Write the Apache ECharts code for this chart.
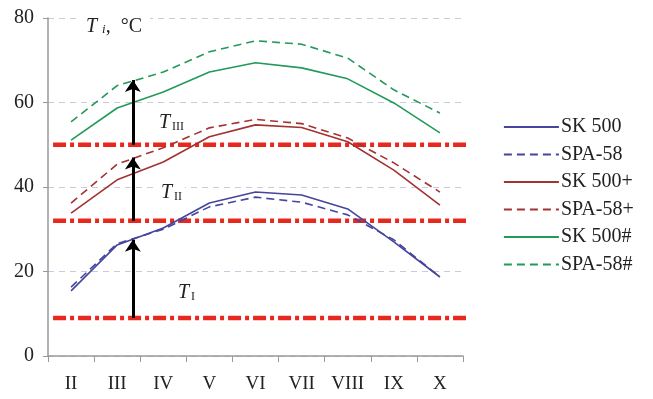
<!DOCTYPE html>
<html>
<head>
<meta charset="utf-8">
<script src="https://cdn.jsdelivr.net/npm/echarts@6/dist/echarts.min.js"></script>
<style>
  html, body { margin: 0; padding: 0; background: #fff; }
  #chart { width: 653px; height: 399px; }
</style>
</head>
<body>
<div id="chart"></div>
<script>
// months (roman)
var months = ['II', 'III', 'IV', 'V', 'VI', 'VII', 'VIII', 'IX', 'X'];
var sk500 = [15.4, 26.3, 30.3, 36.2, 38.8, 38.1, 34.8, 27.0, 18.7];
var spa58 = [16.3, 26.6, 30.0, 35.3, 37.6, 36.4, 33.4, 27.5, 18.7];
var sk500p = [33.8, 41.7, 45.9, 51.9, 54.7, 54.1, 50.7, 44.0, 35.7];
var spa58p = [36.2, 45.4, 49.3, 54.0, 56.0, 55.0, 51.6, 45.7, 38.8];
var sk500h = [51.1, 58.7, 62.5, 67.2, 69.4, 68.2, 65.6, 59.9, 52.8];
var spa58h = [55.4, 64.0, 67.2, 72.0, 74.6, 73.8, 70.5, 63.0, 57.5];
// limits T I / T II / T III
var limits = [9, 32, 50];
// arrows: [from, to]
var arrows = [[9, 27.5], [32, 47], [50, 65.3]];
var arrowX = 1.84;

var serif = '"Liberation Serif", "DejaVu Serif", serif';
var blue = '#45459e', red = '#a33232', green = '#23995a', limitRed = '#e8281e';

var chart = echarts.init(document.getElementById('chart'));

function lineSeries(name, data, color, dashed) {
    return {
        name: name,
        type: 'line',
        data: data,
        symbol: 'none',
        xAxisIndex: 0,
        yAxisIndex: 0,
        z: 3,
        lineStyle: { color: color, width: 1.6, type: dashed ? [8, 5] : 'solid' },
        itemStyle: { color: color }
    };
}

var series = [
    lineSeries('SK 500', sk500, blue, false),
    lineSeries('SPA-58', spa58, blue, true),
    lineSeries('SK 500+', sk500p, red, false),
    lineSeries('SPA-58+', spa58p, red, true),
    lineSeries('SK 500#', sk500h, green, false),
    lineSeries('SPA-58#', spa58h, green, true)
];

limits.forEach(function (v) {
    series.push({
        type: 'line',
        xAxisIndex: 1,
        yAxisIndex: 0,
        symbol: 'none',
        clip: false,
        silent: true,
        z: 2,
        data: [[0.11, v], [9.22, v]],
        lineStyle: { color: limitRed, width: 4.5, type: [13, 4, 4, 4] }
    });
});

series.push({
    type: 'lines',
    coordinateSystem: 'cartesian2d',
    xAxisIndex: 1,
    yAxisIndex: 0,
    symbol: ['none', 'arrow'],
    symbolSize: 12,
    z: 4,
    lineStyle: { color: '#000', width: 3, opacity: 1, curveness: 0 },
    data: arrows.map(function (a) {
        return { coords: [[arrowX, a[0]], [arrowX, a[1]]] };
    })
});

function tLabel(left, top, sub) {
    return {
        type: 'text',
        left: left,
        top: top,
        z: 10,
        style: {
            text: '{t|T}{s|' + sub + '}',
            backgroundColor: '#fff',
            padding: [0, 3],
            rich: {
                t: { fontFamily: serif, fontStyle: 'italic', fontSize: 20, fill: '#222', lineHeight: 22 },
                s: { fontFamily: serif, fontSize: 12, fill: '#222', padding: [8, 0, 0, 2] }
            }
        }
    };
}

var option = {
    backgroundColor: '#fff',
    animation: false,
    grid: { left: 48, right: 190, top: 18, bottom: 43 },
    legend: {
        orient: 'vertical',
        left: 498,
        top: 112,
        itemWidth: 55,
        itemHeight: 14,
        itemGap: 7.5,
        data: ['SK 500', 'SPA-58', 'SK 500+', 'SPA-58+', 'SK 500#', 'SPA-58#'],
        itemStyle: { opacity: 0 },
        lineStyle: { width: 1.8 },
        textStyle: { fontFamily: serif, fontSize: 20, color: '#222', padding: [0, 0, 0, -3] }
    },
    xAxis: [
        {
            type: 'category',
            data: months,
            boundaryGap: true,
            axisLine: { lineStyle: { color: '#999', width: 1.5 } },
            axisTick: { show: true, length: 6, lineStyle: { color: '#999' } },
            axisLabel: { fontFamily: serif, fontSize: 19, color: '#222', margin: 19 },
            splitLine: { show: false }
        },
        {
            type: 'value',
            min: 0,
            max: 9,
            show: false
        }
    ],
    yAxis: {
        type: 'value',
        min: 0,
        max: 80,
        interval: 20,
        axisLine: { show: true, lineStyle: { color: '#999', width: 1.5 } },
        axisTick: { show: true, length: 5, lineStyle: { color: '#999' } },
        axisLabel: { fontFamily: serif, fontSize: 20, color: '#222', margin: 14 },
        splitLine: { show: true, lineStyle: { color: '#c9cbdc', type: [6, 5], width: 1 } }
    },
    graphic: [
        {
            type: 'text',
            left: 78,
            top: 16,
            z: 10,
            style: {
                text: '{t|T}{s|i}{c|,  °C}',
                backgroundColor: '#fff',
                padding: [0, 8],
                rich: {
                    t: { fontFamily: serif, fontStyle: 'italic', fontSize: 20, fill: '#222', lineHeight: 22 },
                    s: { fontFamily: serif, fontStyle: 'italic', fontSize: 13, fill: '#222', padding: [6, 0, 0, 5] },
                    c: { fontFamily: serif, fontSize: 20, fill: '#222' }
                }
            }
        },
        tLabel(156, 112, 'III'),
        tLabel(158, 182, 'II'),
        tLabel(175, 282, 'I')
    ],
    series: series
};

chart.setOption(option);
</script>
</body>
</html>
